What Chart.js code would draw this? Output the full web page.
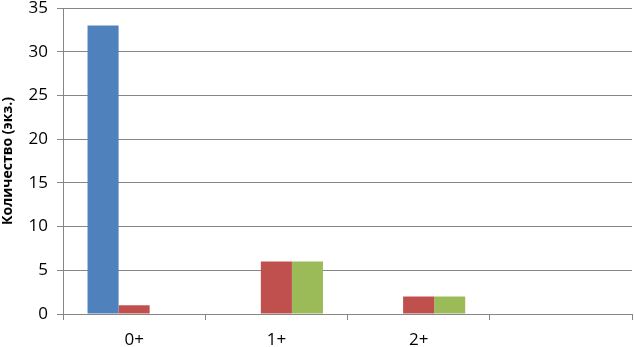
<!DOCTYPE html>
<html>
<head>
<meta charset="utf-8">
<script src="https://cdn.jsdelivr.net/npm/chart.js@4"></script>
<style>
    html, body { margin: 0; padding: 0; background: #fff; }
    #wrap { width: 634px; height: 347px; }
</style>
</head>
<body>
<div id="wrap"><canvas id="ageChart" width="634" height="347"></canvas></div>
<script>
// Возрастные группы и значения серий
const ageGroups = ['0+', '1+', '2+', ''];
const seriesBlue = [33, 0, 0, null];
const seriesRed = [1, 6, 2, null];
const seriesGreen = [0, 6, 2, null];
const yTicks = [0, 5, 10, 15, 20, 25, 30, 35];

const gridColor = '#868686';
const tickFont = { family: 'Open Sans', size: 17 };

const chartData = {
    labels: ageGroups,
    datasets: [
        { label: 'Серия 1', data: seriesBlue, backgroundColor: '#4F81BD' },
        { label: 'Серия 2', data: seriesRed, backgroundColor: '#C0504D' },
        { label: 'Серия 3', data: seriesGreen, backgroundColor: '#9BBB59' }
    ]
};

const chartConfig = {
    type: 'bar',
    data: chartData,
    options: {
        responsive: false,
        animation: false,
        layout: { padding: { left: 0, right: 2, top: 8, bottom: 0 } },
        datasets: {
            bar: { barPercentage: 1, categoryPercentage: 0.655, borderWidth: 0 }
        },
        plugins: {
            legend: { display: false },
            tooltip: { enabled: false }
        },
        scales: {
            x: {
                grid: {
                    offset: true,
                    drawOnChartArea: false,
                    color: gridColor,
                    tickLength: 6
                },
                border: { color: gridColor },
                ticks: { color: '#000', font: tickFont, padding: 10 },
                afterFit: function (scale) { scale.height = 33; }
            },
            y: {
                min: 0,
                max: 35,
                afterBuildTicks: function (scale) {
                    scale.ticks = yTicks.map(v => ({ value: v }));
                },
                grid: { color: gridColor, tickLength: 6 },
                border: { color: gridColor },
                ticks: { color: '#000', font: tickFont, padding: 9 },
                title: {
                    display: true,
                    text: 'Количество (экз.)',
                    color: '#000',
                    font: { family: 'Open Sans', size: 14, weight: 'bold' },
                    padding: { top: 0, bottom: 2 }
                },
                afterFit: function (scale) {
                    scale.width = 63;
                    // верхняя подпись «35» может выходить за край, как в оригинале
                    scale.paddingTop = 0;
                    scale.paddingBottom = 0;
                }
            }
        }
    }
};

var ageChart = new Chart(document.getElementById('ageChart'), chartConfig);
</script>
</body>
</html>
